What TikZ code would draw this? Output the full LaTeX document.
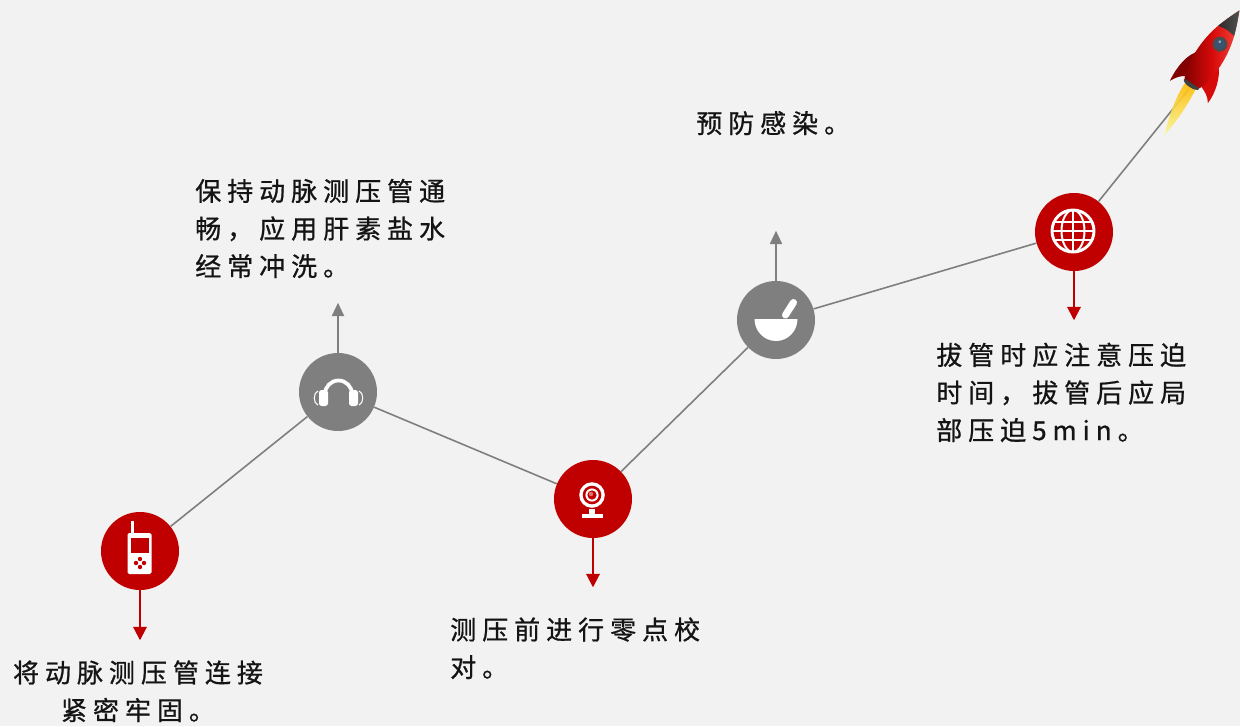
\documentclass[tikz,border=0pt]{standalone}
\usepackage{fontspec}
\newfontfamily\cjk{Noto Sans CJK SC}[LetterSpace=23, FakeBold=0.8]
\usetikzlibrary{arrows.meta}

\definecolor{paper}{RGB}{242,242,242}
\definecolor{dotred}{RGB}{192,0,0}
\definecolor{dotgray}{RGB}{127,127,127}
\definecolor{ink}{RGB}{20,20,20}
\definecolor{hulldark}{RGB}{130,0,0}
\definecolor{hullmid}{RGB}{215,10,10}
\definecolor{hulllight}{RGB}{245,70,60}
\definecolor{porthole}{RGB}{55,85,115}

\tikzset{
  redball/.style={circle, fill=dotred, minimum size=58.5pt, inner sep=0pt},
  grayball/.style={circle, fill=dotgray, minimum size=58.5pt, inner sep=0pt},
  trail/.style={draw=dotgray, line width=1.2pt},
  downarrow/.style={dotred, line width=1.5pt, -{Triangle[width=10pt,length=10pt]}},
  uparrow/.style={dotgray, line width=1.5pt, -{Triangle[width=9pt,length=10pt]}},
  note/.style={font=\cjk\fontsize{19.5}{28.2}\selectfont, text=ink, inner sep=0pt},
}

\begin{document}
\begin{tikzpicture}[x=0.75pt,y=0.75pt,yscale=-1,xscale=1]
    \useasboundingbox[fill=paper] (0,0) rectangle (1240,726);

    %Stops on the trail
    \node[redball]  (phone)   at (140,551) {};
    \node[grayball] (headset) at (338,392) {};
    \node[redball]  (webcam)  at (593,499) {};
    \node[grayball] (mortar)  at (776,320) {};
    \node[redball]  (globe)   at (1074,232) {};
    \coordinate (exhaust) at (1189,89);

    %Trail line
    \draw[trail] (phone) -- (headset) -- (webcam) -- (mortar) -- (globe) -- (exhaust);

    %Arrows
    \draw[downarrow] (phone.south) -- ++(0,50);
    \draw[uparrow] (headset.north) -- ++(0,-50);
    \draw[downarrow] (webcam.south) -- ++(0,49);
    \draw[uparrow] (mortar.north) -- ++(0,-50);
    \draw[downarrow] (globe.south) -- ++(0,49);

    %Icon: handset
    \begin{scope}[shift={(140,551)}]
        \fill[white, rounded corners=1.2pt] (-12.5,-18) rectangle (11.5,23);
        \fill[white] (-9,-30) rectangle (-6,-17);
        \fill[dotred] (-9,-13) rectangle (9,2);
        \foreach \dx/\dy in {0/-4,0/4,-4/0,4/0}
            \fill[dotred] (\dx,12+\dy) circle (2.2);
    \end{scope}

    %Icon: headphones
    \begin{scope}[shift={(338,392)}]
        \draw[white, line width=2.8pt] (-13,9) -- (-13,2) arc[start angle=180, end angle=360, radius=13.5] -- (14,9);
        \fill[white, rounded corners=2pt] (-19,-2) rectangle (-10,14);
        \fill[white, rounded corners=2pt] (11,-2) rectangle (20,14);
        \draw[white, line width=0.8pt] (-20,-1) .. controls (-25,1) and (-25,11) .. (-20,13);
        \draw[white, line width=0.8pt] (21,-1) .. controls (26,1) and (26,11) .. (21,13);
    \end{scope}

    %Icon: webcam
    \begin{scope}[shift={(593,499)}]
        \fill[white] (-1,-4) circle (12.8);
        \fill[dotred] (-1,-4) circle (9.3);
        \fill[white] (-1,-4) circle (6.6);
        \fill[dotred] (-1,-4) circle (4.6);
        \fill[white!45!dotred] (-2,-5) circle (2.2);
        \fill[white] (-4,9.5) rectangle (2,14.5);
        \fill[white] (-10.7,14.5) rectangle (10.3,18.5);
    \end{scope}

    %Icon: mortar and pestle
    \begin{scope}[shift={(776,320)}]
        \fill[white] (-21.5,-1) -- (21.5,-1) arc[start angle=0, end angle=180, x radius=21.5, y radius=22] -- cycle;
        \draw[white, line width=5.25pt, line cap=round] (9.5,-5) -- (17.5,-17.5);
    \end{scope}

    %Icon: globe
    \begin{scope}[shift={(1074,232)}]
        \draw[white, line width=2.2pt] (-1,-1) circle (21);
        \begin{scope}
            \clip (-1,-1) circle (20);
            \draw[white, line width=1.5pt] (-1,-22) -- (-1,20) (-22,-1) -- (20,-1)
                (-22,-10.3) -- (20,-10.3) (-22,8.3) -- (20,8.3);
            \draw[white, line width=1.5pt] (-1,-1) ellipse [x radius=11.5, y radius=21];
        \end{scope}
    \end{scope}

    %Rocket
    \begin{scope}[shift={(1191,85)}, rotate=33]
        % flame
        \shade[top color=orange!55!yellow, bottom color=yellow!40!paper, opacity=.9]
            (-6,0) .. controls (-7,20) and (0,42) .. (5,56) .. controls (8,38) and (8,16) .. (6,0) -- cycle;
        % fins
        \fill[hulldark] (-12,-32) .. controls (-20,-24) and (-22,-8) .. (-20,8) .. controls (-17,2) and (-14,-2) .. (-10,-4) -- cycle;
        \fill[hullmid] (12,-32) .. controls (21,-22) and (25,-6) .. (24,6) .. controls (20,0) and (15,-2) .. (10,-4) -- cycle;
        % nozzle
        \fill[black!75] (0,-1) ellipse [x radius=9, y radius=3.5];
        % hull
        \shade[left color=hulldark, right color=hulllight, middle color=hullmid]
            (-9,-2) .. controls (-16,-18) and (-16,-45) .. (-9,-66) .. controls (-5,-78) and (-2,-84) .. (0,-89)
            .. controls (2,-84) and (5,-78) .. (9,-66) .. controls (16,-45) and (16,-18) .. (9,-2) -- cycle;
        % nose cone
        \begin{scope}
            \clip (-9,-2) .. controls (-16,-18) and (-16,-45) .. (-9,-66) .. controls (-5,-78) and (-2,-84) .. (0,-89)
                .. controls (2,-84) and (5,-78) .. (9,-66) .. controls (16,-45) and (16,-18) .. (9,-2) -- cycle;
            \shade[left color=black!90, right color=black!55] (-20,-62) .. controls (0,-67) .. (20,-62) -- (20,-95) -- (-20,-95) -- cycle;
        \end{scope}
        % porthole
        \fill[black!70] (2,-50) circle (7.5);
        \fill[porthole] (2,-50) circle (5);
        \fill[white, opacity=.5] (0.5,-52) circle (1.5);
    \end{scope}

    % Text Node (anchored at the baseline of the last line)
    \node[note, anchor=base, align=center] (fasten) at (138,720) {将动脉测压管连接\\紧密牢固。};
    % Text Node
    \node[note, anchor=base west, align=left] (flush) at (195,276) {保持动脉测压管通\\畅，应用肝素盐水\\经常冲洗。};
    % Text Node
    \node[note, anchor=base west, align=left] (zero) at (450,677) {测压前进行零点校\\对。};
    % Text Node
    \node[note, anchor=base west, align=left] (infect) at (696,133) {预防感染。};
    % Text Node
    \node[note, anchor=base west, align=left] (press) at (936,440) {拔管时应注意压迫\\时间，拔管后应局\\部压迫5min。};

\end{tikzpicture}
\end{document}
